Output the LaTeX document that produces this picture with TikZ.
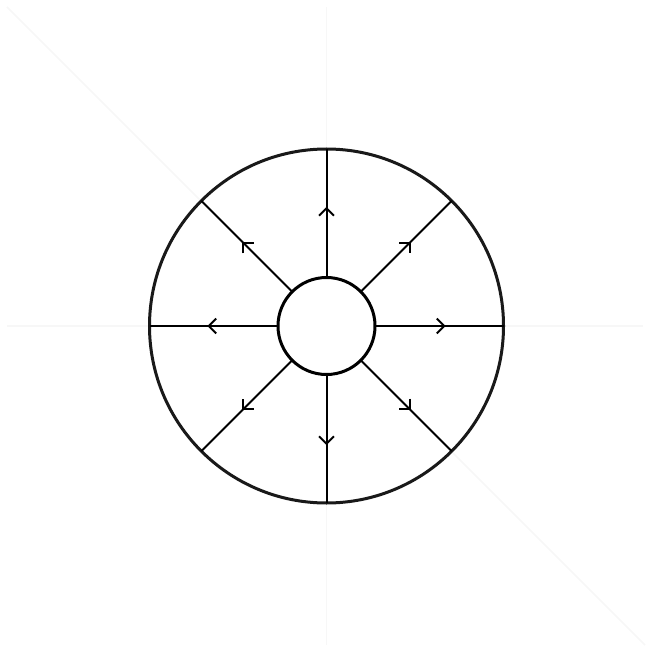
\documentclass[tikz,border=0pt]{standalone}
\usetikzlibrary{arrows.meta,decorations.markings}
\tikzset{
  faint/.style={draw=black!3, line width=1.6pt},
  ring/.style={circle, draw=black!90, fill=white, line width=3pt, outer sep=0pt, inner sep=0pt},
  hub/.style={circle, draw=black, fill=white, line width=3pt, outer sep=0pt, inner sep=0pt},
  spoke/.style={draw=black, line width=2pt, postaction={decorate},
    decoration={markings, mark=at position 0.55 with {\arrow{Straight Barb[length=7.5pt,width=15pt,line width=2pt]}}}}
}
\begin{document}
\begin{tikzpicture}[x=1pt,y=-1pt]
\useasboundingbox (0,0) rectangle (650,652);
\coordinate (hl) at (7,326);
\coordinate (hr) at (643,326);
\coordinate (vt) at (326.5,7);
\coordinate (vb) at (326.5,645);
\coordinate (dt) at (7,7);
\coordinate (db) at (645,645);
\draw[faint] (hl) -- (hr);
\draw[faint] (vt) -- (vb);
\draw[faint] (dt) -- (db);
\node[ring, minimum size=354pt] (o) at (326.5,326) {};
\node[hub, minimum size=97pt] (c) at (326.5,326) {};
\foreach \a in {0,45,...,315}{
  \draw[spoke] (c.\a) -- (o.\a);
}
\end{tikzpicture}
\end{document}
